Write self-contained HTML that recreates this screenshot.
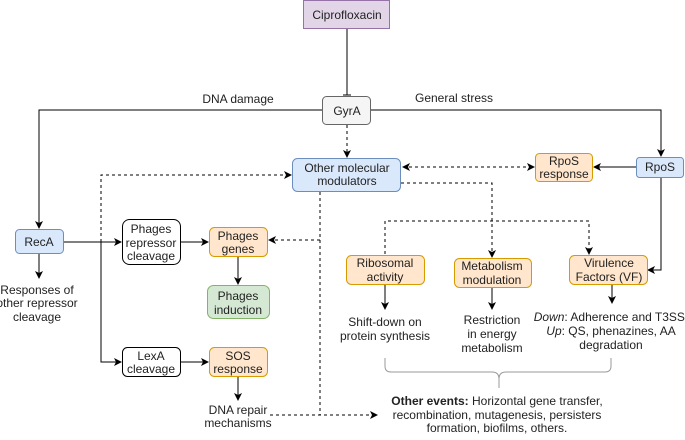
<!DOCTYPE html>
<html><head><style>body{margin:0;background:#fff}text{font-family:"Liberation Sans",sans-serif;font-size:12px;fill:#222}</style></head><body>
<svg width="685" height="435" viewBox="0 0 685 435" xmlns="http://www.w3.org/2000/svg">
<defs><marker id="a" markerWidth="8" markerHeight="8" refX="7" refY="4" orient="auto" markerUnits="userSpaceOnUse"><path d="M0,0 L8,4 L0,8 L2,4z" fill="#000"/></marker>
<marker id="b" markerWidth="8" markerHeight="8" refX="1" refY="4" orient="auto" markerUnits="userSpaceOnUse"><path d="M8,0 L0,4 L8,8 L6,4z" fill="#000"/></marker></defs>
<g stroke="#000" fill="none" stroke-width="1">
<line x1="347" y1="29" x2="347" y2="95"/><line x1="343" y1="95" x2="351" y2="95"/>
<polyline points="322,110 39,110 39,228" marker-end="url(#a)"/>
<polyline points="371,110 661,110 661,156" marker-end="url(#a)"/>
<line x1="636" y1="167" x2="594" y2="167" marker-end="url(#a)"/>
<polyline points="661,178 661,270 648,270" marker-end="url(#a)"/>
<line x1="63" y1="242" x2="121" y2="242" marker-end="url(#a)"/>
<polyline points="101,242 101,362 121,362" marker-end="url(#a)"/>
<line x1="180" y1="242" x2="208" y2="242" marker-end="url(#a)"/>
<line x1="180" y1="362" x2="208" y2="362" marker-end="url(#a)"/>
<line x1="238" y1="256" x2="238" y2="284" marker-end="url(#a)"/>
<line x1="238" y1="376" x2="238" y2="400" marker-end="url(#a)"/>
<line x1="39" y1="253" x2="39" y2="278" marker-end="url(#a)"/>
<line x1="385" y1="284" x2="385" y2="309" marker-end="url(#a)"/>
<line x1="492" y1="287" x2="492" y2="309" marker-end="url(#a)"/>
<line x1="612" y1="284" x2="612" y2="303" marker-end="url(#a)"/>
<g stroke-dasharray="3,3">
<line x1="347" y1="125" x2="347" y2="157" marker-end="url(#a)"/>
<line x1="403" y1="167" x2="534" y2="167" marker-start="url(#b)" marker-end="url(#a)"/>
<polyline points="101,242 101,175 291,175" marker-end="url(#a)"/>
<polyline points="320,192 320,415"/>
<line x1="320" y1="240" x2="269" y2="240" marker-end="url(#a)"/>
<line x1="270" y1="415" x2="377" y2="415" marker-end="url(#a)"/>
<polyline points="401,183 492,183 492,257" marker-end="url(#a)"/>
<polyline points="385,254 385,221 589,221 589,254" marker-end="url(#a)"/>
</g>
<path d="M385,358 L385,366 q0,6 6,6 L492,372 q7,0 7,7 L499,388 M499,379 q0,-7 7,-7 L605,372 q6,0 6,-6 L611,358" stroke="#999"/>
</g>
<g stroke-width="1">
<rect x="303.5" y="0.5" width="86" height="28" fill="#e1d5e7" stroke="#9673a6"/>
<rect x="322.5" y="96.5" width="48" height="28" rx="4" fill="#f5f5f5" stroke="#666"/>
<rect x="292.5" y="158.5" width="108" height="33" rx="5" fill="#dae8fc" stroke="#6c8ebf"/>
<rect x="535.5" y="153.5" width="57" height="28" rx="4" fill="#ffe6cc" stroke="#d79b00"/>
<rect x="636.5" y="157.5" width="47" height="20" rx="3" fill="#dae8fc" stroke="#6c8ebf"/>
<rect x="15.5" y="229.5" width="48" height="24" rx="4" fill="#dae8fc" stroke="#6c8ebf"/>
<rect x="122.5" y="219.5" width="58" height="45" rx="7" fill="#fff" stroke="#000"/>
<rect x="209.5" y="227.5" width="58" height="29" rx="5" fill="#ffe6cc" stroke="#d79b00"/>
<rect x="207.5" y="285.5" width="62" height="33" rx="6" fill="#d5e8d4" stroke="#82b366"/>
<rect x="122.5" y="347.5" width="58" height="29" rx="5" fill="#fff" stroke="#000"/>
<rect x="209.5" y="347.5" width="58" height="29" rx="5" fill="#ffe6cc" stroke="#d79b00"/>
<rect x="346.5" y="255.5" width="78" height="29" rx="5" fill="#ffe6cc" stroke="#d79b00"/>
<rect x="454.5" y="258.5" width="77" height="29" rx="5" fill="#ffe6cc" stroke="#d79b00"/>
<rect x="569.5" y="255.5" width="78" height="29" rx="5" fill="#ffe6cc" stroke="#d79b00"/>
</g>
<g text-anchor="middle">
<text x="347" y="19" font-size="13">Ciprofloxacin</text>
<text x="238" y="103" font-size="13">DNA damage</text>
<text x="454" y="102" font-size="13">General stress</text>
<text x="347" y="115">GyrA</text>
<text x="347" y="172">Other molecular</text><text x="347" y="185">modulators</text>
<text x="564" y="165">RpoS</text><text x="564" y="178">response</text>
<text x="660" y="171">RpoS</text>
<text x="39" y="246">RecA</text>
<text x="151" y="233">Phages</text><text x="151" y="247">repressor</text><text x="151" y="260">cleavage</text>
<text x="238" y="240">Phages</text><text x="238" y="253">genes</text>
<text x="238" y="300">Phages</text><text x="238" y="314">induction</text>
<text x="151" y="360">LexA</text><text x="151" y="373">cleavage</text>
<text x="238" y="360">SOS</text><text x="238" y="373">response</text>
<text x="37" y="294">Responses of</text><text x="37" y="307">other repressor</text><text x="37" y="321">cleavage</text>
<text x="238" y="414">DNA repair</text><text x="238" y="427">mechanisms</text>
<text x="385" y="267">Ribosomal</text><text x="385" y="281">activity</text>
<text x="492" y="270">Metabolism</text><text x="492" y="284">modulation</text>
<text x="609" y="267">Virulence</text><text x="609" y="281">Factors (VF)</text>
<text x="385" y="326">Shift-down on</text><text x="385" y="340">protein synthesis</text>
<text x="492" y="324">Restriction</text><text x="492" y="338">in energy</text><text x="492" y="352">metabolism</text>
<text x="611" y="321"><tspan font-style="italic">Down</tspan>: Adherence and T3SS.</text>
<text x="611" y="335"><tspan font-style="italic">Up</tspan>: QS, phenazines, AA</text>
<text x="611" y="349">degradation</text>
<text x="497" y="405"><tspan font-weight="bold">Other events:</tspan> Horizontal gene transfer,</text>
<text x="497" y="419">recombination, mutagenesis, persisters</text>
<text x="497" y="432">formation, biofilms, others.</text>
</g>
</svg>
</body></html>
